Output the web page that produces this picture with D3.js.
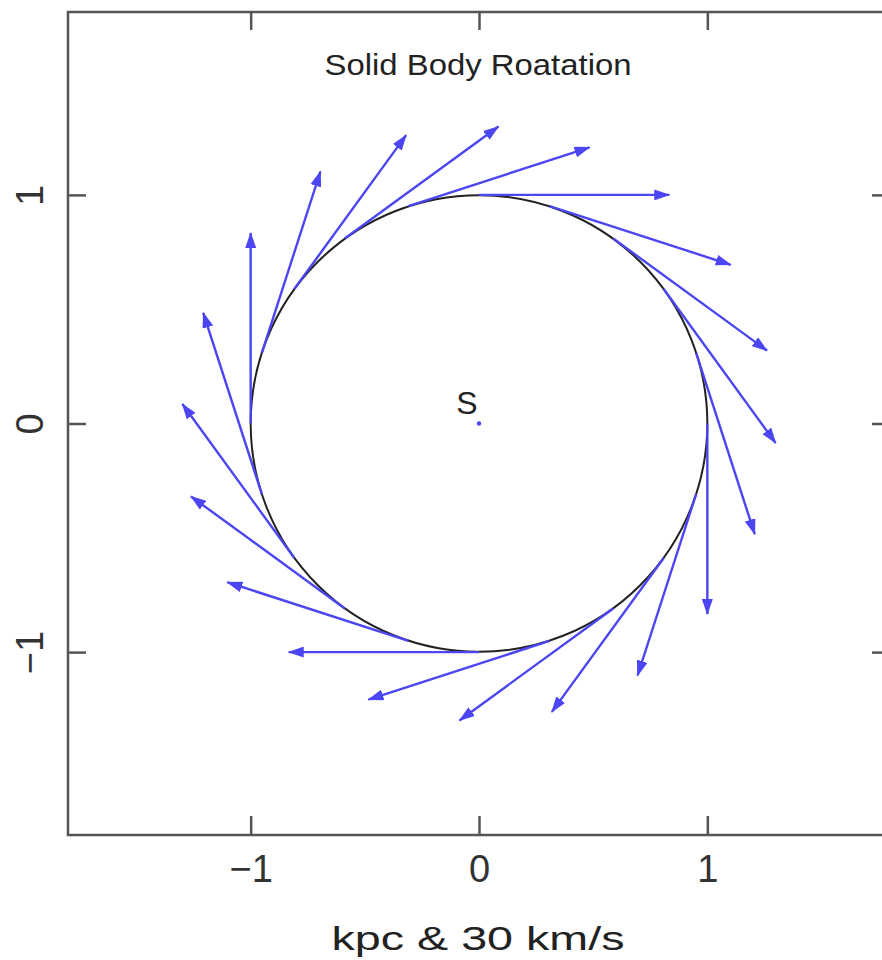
<!DOCTYPE html>
<html>
<head>
<meta charset="utf-8">
<script src="https://cdn.jsdelivr.net/npm/d3@7"></script>
<style>
  html, body { margin: 0; padding: 0; background: #fff; }
  svg { display: block; }
</style>
</head>
<body>
<svg id="chart" width="882" height="960"></svg>
<script>
// ---- data ----
const title = "Solid Body Roatation";
const xLabel = "kpc & 30 km/s";
const centerLabel = "S";
const tickValues = [-1, 0, 1];
const axisDomain = [-1.8, 1.8];
const ringRadius = 1;           // kpc
const velScale = 30;            // km/s per plot unit
// star positions on the ring (kpc)
const posX = [0, 0.309, 0.588, 0.809, 0.951, 1, 0.951, 0.809, 0.588, 0.309, 0, -0.309, -0.588, -0.809, -0.951, -1, -0.951, -0.809, -0.588, -0.309];
const posY = [1, 0.951, 0.809, 0.588, 0.309, 0, -0.309, -0.588, -0.809, -0.951, -1, -0.951, -0.809, -0.588, -0.309, 0, 0.309, 0.588, 0.809, 0.951];
// velocities (km/s)
const velX = [25, 23.8, 20.2, 14.7, 7.7, 0, -7.7, -14.7, -20.2, -23.8, -25, -23.8, -20.2, -14.7, -7.7, 0, 7.7, 14.7, 20.2, 23.8];
const velY = [0, -7.7, -14.7, -20.2, -23.8, -25, -23.8, -20.2, -14.7, -7.7, 0, 7.7, 14.7, 20.2, 23.8, 25, 23.8, 20.2, 14.7, 7.7];

// ---- chart ----
const svg = d3.select("#chart");
const L = 68, R = 890, T = 12, B = 835;
const x = d3.scaleLinear().domain(axisDomain).range([L, R]);
const y = d3.scaleLinear().domain(axisDomain).range([B, T]);

const frameColor = "#555";
const arrowColor = "#4b45f2";
const font = "'Liberation Sans', Arial, sans-serif";
const fmt = d3.format("d");

// arrow marker
svg.append("defs").append("marker")
  .attr("id", "ah")
  .attr("markerUnits", "userSpaceOnUse")
  .attr("viewBox", "0 0 16 11")
  .attr("refX", 15).attr("refY", 5.5)
  .attr("markerWidth", 16).attr("markerHeight", 11)
  .attr("orient", "auto")
  .append("path").attr("d", "M0,0 L16,5.5 L0,11 Z").attr("fill", arrowColor);

// axes
function styleAxis(g) {
  g.selectAll(".domain").remove();
  g.selectAll(".tick line").attr("stroke", frameColor).attr("stroke-width", 2.5);
}
const gB = svg.append("g").attr("transform", `translate(0,${B})`)
  .call(d3.axisBottom(x).tickValues(tickValues).tickFormat(fmt).tickSizeInner(-19).tickSizeOuter(0).tickPadding(20));
styleAxis(gB);
gB.selectAll(".tick text").attr("font-family", font).attr("font-size", 38).attr("fill", "#333").attr("dy", "0.71em");

const gT = svg.append("g").attr("transform", `translate(0,${T})`)
  .call(d3.axisTop(x).tickValues(tickValues).tickSizeInner(-18).tickSizeOuter(0).tickFormat(""));
styleAxis(gT);

const gL = svg.append("g").attr("transform", `translate(${L},0)`)
  .call(d3.axisLeft(y).tickValues(tickValues).tickFormat(fmt).tickSizeInner(-18).tickSizeOuter(0));
styleAxis(gL);
gL.selectAll(".tick text")
  .attr("font-family", font).attr("font-size", 38).attr("fill", "#333")
  .attr("text-anchor", "middle").attr("x", null).attr("dy", null)
  .attr("transform", "translate(-25,0) rotate(-90)");

const gR = svg.append("g").attr("transform", `translate(${R},0)`)
  .call(d3.axisRight(y).tickValues(tickValues).tickSizeInner(-18).tickSizeOuter(0).tickFormat(""));
styleAxis(gR);

// frame
svg.append("rect").attr("x", L).attr("y", T).attr("width", R - L).attr("height", B - T)
  .attr("fill", "none").attr("stroke", frameColor).attr("stroke-width", 2.5);

// ring
svg.append("circle")
  .attr("cx", x(0)).attr("cy", y(0))
  .attr("r", x(ringRadius) - x(0))
  .attr("fill", "none").attr("stroke", "#222").attr("stroke-width", 2);

// arrows
const stars = posX.map((px, i) => ({ px, py: posY[i], vx: velX[i], vy: velY[i] }));
svg.append("g").selectAll("line").data(stars).join("line")
  .attr("x1", d => x(d.px)).attr("y1", d => y(d.py))
  .attr("x2", d => x(d.px + d.vx / velScale)).attr("y2", d => y(d.py + d.vy / velScale))
  .attr("stroke", arrowColor).attr("stroke-width", 2.4)
  .attr("marker-end", "url(#ah)");

// center
svg.append("circle").attr("cx", x(0)).attr("cy", y(0)).attr("r", 2.2).attr("fill", arrowColor);
svg.append("text").attr("x", x(0) - 12).attr("y", y(0) - 10)
  .attr("text-anchor", "middle").attr("font-family", font).attr("font-size", 32).attr("fill", "#222")
  .text(centerLabel);

// title
svg.append("text").attr("x", 478).attr("y", 75)
  .attr("text-anchor", "middle").attr("font-family", font).attr("font-size", 30).attr("fill", "#222")
  .attr("textLength", 307).attr("lengthAdjust", "spacingAndGlyphs")
  .text(title);

// x label
svg.append("text").attr("x", 478).attr("y", 950)
  .attr("text-anchor", "middle").attr("font-family", font).attr("font-size", 34).attr("fill", "#222")
  .attr("textLength", 293).attr("lengthAdjust", "spacingAndGlyphs")
  .text(xLabel);
</script>
</body>
</html>
